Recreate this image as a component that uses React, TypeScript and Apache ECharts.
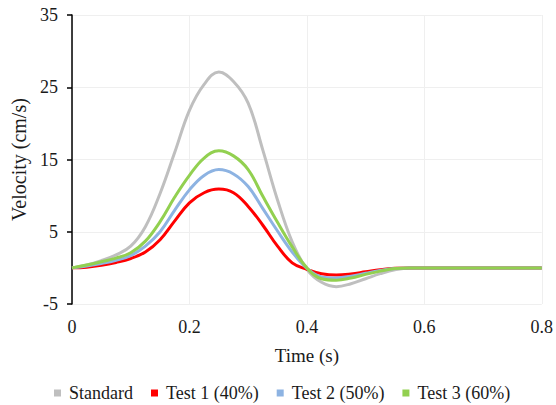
import React, { useEffect, useRef } from "react";
import * as echarts from "echarts";

const times = [0, 0.025, 0.05, 0.075, 0.1, 0.125, 0.15, 0.175, 0.2, 0.225, 0.25, 0.275, 0.3, 0.325, 0.35, 0.375, 0.4, 0.425, 0.45, 0.475, 0.5, 0.525, 0.55, 0.575, 0.6, 0.65, 0.7, 0.75, 0.8];
const standard = [0, 0.4, 1.0, 1.8, 3.0, 5.7, 10.3, 16.0, 21.8, 25.4, 27.1, 25.8, 22.8, 16.3, 9.4, 3.6, -0.2, -2.0, -2.6, -2.2, -1.5, -0.8, -0.25, 0, 0, 0, 0, 0, 0];
const test1 = [0, 0.1, 0.35, 0.75, 1.3, 2.2, 3.9, 6.5, 9.0, 10.4, 10.9, 10.4, 8.5, 5.9, 3.0, 0.7, -0.2, -0.8, -1.0, -0.85, -0.55, -0.25, -0.05, 0, 0, 0, 0, 0, 0];
const test2 = [0, 0.25, 0.6, 1.05, 1.7, 3.0, 5.0, 8.0, 10.8, 12.8, 13.6, 13.0, 11.25, 8.2, 5.1, 2.2, -0.05, -1.25, -1.4, -1.15, -0.75, -0.35, -0.1, 0, 0, 0, 0, 0, 0];
const test3 = [0, 0.4, 0.85, 1.35, 2.1, 3.7, 6.4, 9.8, 12.8, 15.2, 16.2, 15.5, 13.6, 9.9, 6.3, 2.9, 0, -1.5, -1.7, -1.4, -0.9, -0.45, -0.1, 0, 0, 0, 0, 0, 0];

const seriesNames = ["Standard", "Test 1 (40%)", "Test 2 (50%)", "Test 3 (60%)"];
const seriesColors = ["#bfbfbf", "#ff0000", "#8db3e2", "#92d050"];
const seriesValues = [standard, test1, test2, test3];

const FONT = "Liberation Serif";

export default function App() {
  const ref = useRef<HTMLDivElement>(null);
  useEffect(() => {
    if (!ref.current) return;
    const chart = echarts.init(ref.current, null, { renderer: "svg" });
    chart.setOption({
      animation: false,
      backgroundColor: "#ffffff",
      textStyle: { fontFamily: FONT },
      grid: { left: 72, right: 13, top: 15, bottom: 101, containLabel: false },
      legend: {
        top: 384,
        left: 54,
        icon: "rect",
        itemWidth: 7,
        itemHeight: 7,
        itemGap: 18,
        padding: 0,
        textStyle: { fontFamily: FONT, fontSize: 18, color: "#1a1a1a", padding: [0, 0, 0, 3] },
        data: seriesNames,
      },
      xAxis: {
        type: "value",
        min: 0,
        max: 0.8,
        interval: 0.2,
        name: "Time (s)",
        nameLocation: "middle",
        nameGap: 42,
        nameTextStyle: { fontFamily: FONT, fontSize: 19, color: "#1a1a1a" },
        axisLine: { show: false },
        axisTick: { show: false },
        axisLabel: {
          fontFamily: FONT,
          fontSize: 18,
          color: "#1a1a1a",
          margin: 14,
          formatter: (v: number) => (v === 0 ? "0" : String(Math.round(v * 10) / 10)),
        },
        splitLine: { show: true, lineStyle: { color: "#efefef", width: 1 } },
      },
      yAxis: {
        type: "value",
        min: -5,
        max: 35,
        interval: 10,
        name: "Velocity (cm/s)",
        nameLocation: "middle",
        nameGap: 43,
        nameTextStyle: { fontFamily: FONT, fontSize: 20, color: "#1a1a1a" },
        axisLine: { show: true, onZero: false, lineStyle: { color: "#000", width: 1.5 } },
        axisTick: { show: true, length: 5, lineStyle: { color: "#000", width: 1.5 } },
        axisLabel: { fontFamily: FONT, fontSize: 18, color: "#1a1a1a", margin: 14 },
        splitLine: { show: true, lineStyle: { color: "#efefef", width: 1 } },
      },
      series: seriesNames.map((name, i) => ({
        name,
        type: "line",
        smooth: 0.4,
        showSymbol: false,
        symbol: "none",
        color: seriesColors[i],
        lineStyle: { color: seriesColors[i], width: 3 },
        data: times.map((t, k) => [t, seriesValues[i][k]]),
      })),
    });
    return () => chart.dispose();
  }, []);
  return <div ref={ref} style={{ width: 556, height: 405, position: "absolute", left: 0, top: 0 }} />;
}
